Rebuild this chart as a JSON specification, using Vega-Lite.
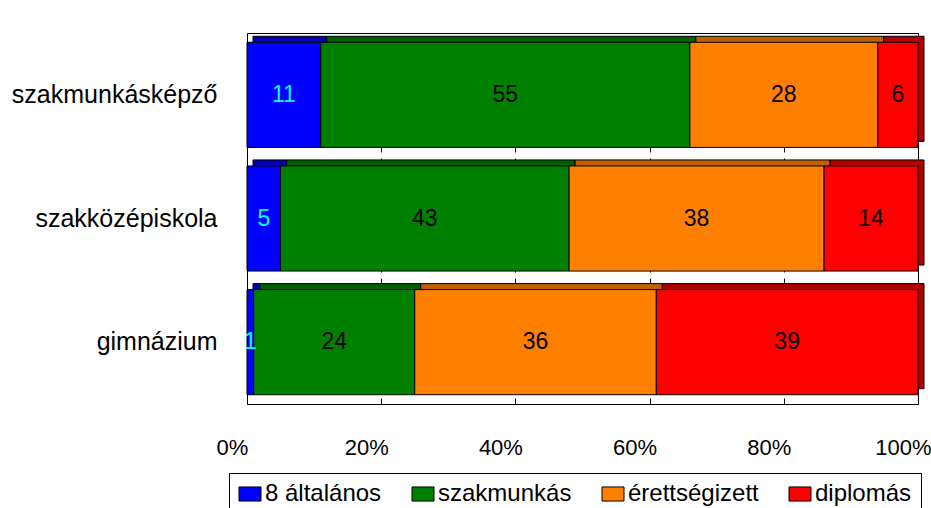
{
  "$schema": "https://vega.github.io/schema/vega-lite/v6.json",
  "width": 671,
  "height": 371,
  "autosize": "none",
  "padding": {"left": 247, "top": 33, "right": 13, "bottom": 104},
  "background": "white",
  "config": {
    "font": "Liberation Sans",
    "view": {"stroke": "black", "strokeWidth": 1}
  },
  "data": {
    "values": [
      {"school": "szakmunkásképző", "level": "8 általános", "order": 1, "value": 11},
      {"school": "szakmunkásképző", "level": "szakmunkás", "order": 2, "value": 55},
      {"school": "szakmunkásképző", "level": "érettségizett", "order": 3, "value": 28},
      {"school": "szakmunkásképző", "level": "diplomás", "order": 4, "value": 6},
      {"school": "szakközépiskola", "level": "8 általános", "order": 1, "value": 5},
      {"school": "szakközépiskola", "level": "szakmunkás", "order": 2, "value": 43},
      {"school": "szakközépiskola", "level": "érettségizett", "order": 3, "value": 38},
      {"school": "szakközépiskola", "level": "diplomás", "order": 4, "value": 14},
      {"school": "gimnázium", "level": "8 általános", "order": 1, "value": 1},
      {"school": "gimnázium", "level": "szakmunkás", "order": 2, "value": 24},
      {"school": "gimnázium", "level": "érettségizett", "order": 3, "value": 36},
      {"school": "gimnázium", "level": "diplomás", "order": 4, "value": 39}
    ]
  },
  "transform": [
    {"stack": "value", "groupby": ["school"], "sort": [{"field": "order"}], "offset": "normalize", "as": ["v0", "v1"]},
    {"calculate": "(datum.v0 + datum.v1) / 2", "as": "mid"}
  ],
  "encoding": {
    "y": {
      "field": "school",
      "type": "nominal",
      "sort": ["szakmunkásképző", "szakközépiskola", "gimnázium"],
      "scale": {"paddingInner": 0.15, "paddingOuter": 0.075},
      "axis": {
        "title": null,
        "domain": false,
        "ticks": false,
        "labelFontSize": 25,
        "labelColor": "black",
        "labelPadding": 30,
        "labelDy": 17,
        "labelLimit": 400,
        "labelFont": "Liberation Sans"
      }
    }
  },
  "layer": [
    {
      "mark": {"type": "bar", "xOffset": 6, "x2Offset": 6, "yOffset": -6, "y2Offset": -6, "stroke": "black", "strokeWidth": 1},
      "encoding": {
        "x": {
          "field": "v0",
          "type": "quantitative",
          "scale": {"domain": [0, 1], "nice": false},
          "axis": {
            "title": null,
            "format": "%",
            "values": [0, 0.2, 0.4, 0.6, 0.8, 1],
            "domain": false,
            "ticks": false,
            "grid": true,
            "gridColor": "black",
            "gridDash": [6, 6],
            "gridWidth": 1,
            "labelFontSize": 22,
            "labelColor": "black",
            "labelPadding": 33,
            "labelOffset": -15,
            "labelFont": "Liberation Sans",
            "labelFlush": false,
            "labelOverlap": false
          }
        },
        "x2": {"field": "v1"},
        "color": {
          "field": "level",
          "type": "nominal",
          "scale": {
            "domain": ["8 általános", "szakmunkás", "érettségizett", "diplomás"],
            "range": ["#0000B0", "#006000", "#C06000", "#B00000"]
          },
          "legend": null
        }
      }
    },
    {
      "mark": {"type": "bar", "stroke": "black", "strokeWidth": 1},
      "encoding": {
        "x": {"field": "v0", "type": "quantitative"},
        "x2": {"field": "v1"},
        "color": {
          "field": "level",
          "type": "nominal",
          "scale": {
            "domain": ["8 általános", "szakmunkás", "érettségizett", "diplomás"],
            "range": ["#0000FF", "#008000", "#FF8000", "#FF0000"]
          },
          "legend": {
            "title": null,
            "orient": "none",
            "direction": "horizontal",
            "legendX": -18,
            "legendY": 440,
            "symbolType": "M-1,-0.64H1V0.64H-1Z",
            "symbolSize": 484,
            "symbolStrokeColor": "black",
            "symbolStrokeWidth": 1,
            "symbolOpacity": 1,
            "labelFontSize": 24,
            "labelColor": "black",
            "labelFont": "Liberation Sans",
            "labelOffset": 3,
            "columnPadding": 28,
            "strokeColor": "black",
            "fillColor": "white",
            "padding": 9
          }
        }
      }
    },
    {
      "mark": {"type": "text", "fontSize": 23, "font": "Liberation Sans"},
      "encoding": {
        "x": {"field": "mid", "type": "quantitative"},
        "text": {"field": "value", "type": "quantitative"},
        "color": {
          "condition": {"test": "datum.level === '8 általános'", "value": "#00FFFF"},
          "value": "black"
        }
      }
    }
  ],
  "resolve": {"scale": {"color": "independent"}}
}
